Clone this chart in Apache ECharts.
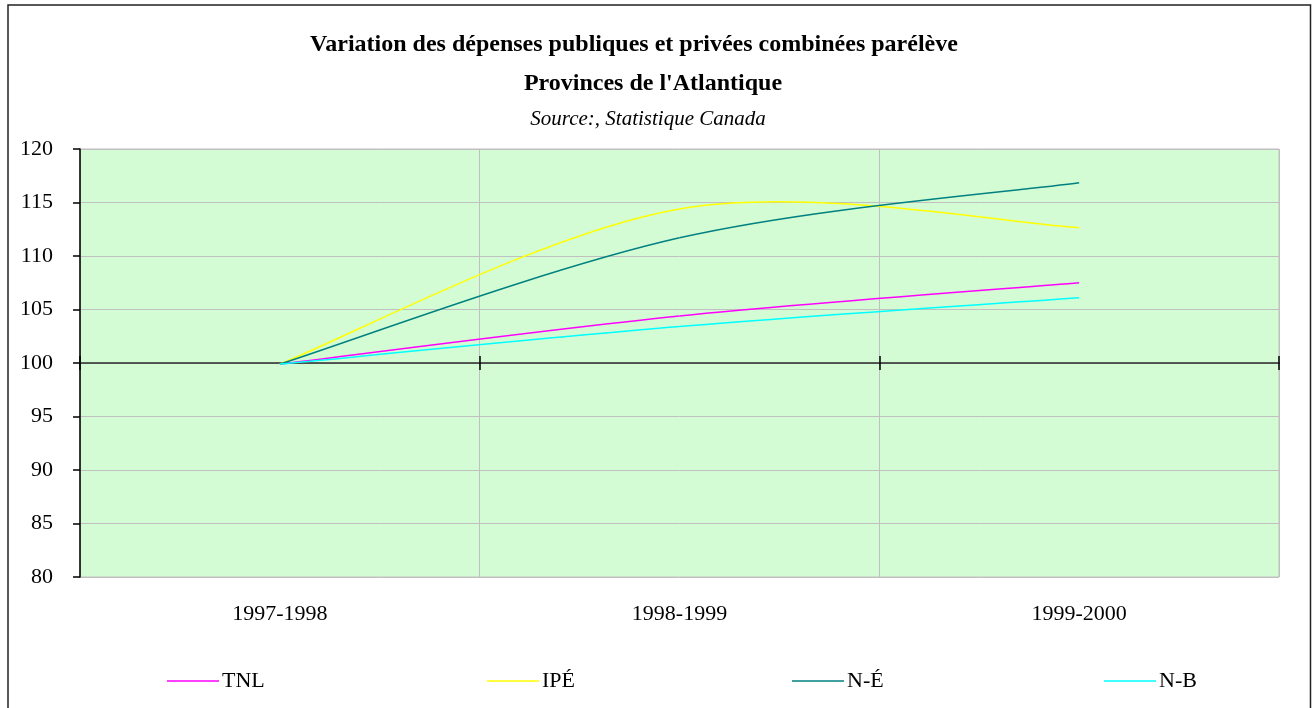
<!DOCTYPE html>
<html>
<head>
<meta charset="utf-8">
<script src="https://cdn.jsdelivr.net/npm/echarts@6/dist/echarts.min.js"></script>
<style>
html,body{margin:0;padding:0;background:#fff;}
#c{width:1313px;height:708px;}
</style>
</head>
<body>
<div id="c"></div>
<script>
var categories = ['1997-1998', '1998-1999', '1999-2000'];
var seriesNames = ['TNL', 'IPÉ', 'N-É', 'N-B'];
var tnl = [99.9, 104.4, 107.5];
var ipe = [99.9, 114.4, 112.65];
var ne = [99.9, 111.7, 116.85];
var nb = [99.9, 103.4, 106.1];
var yTicks = {min: 80, max: 120, interval: 5};
var titleLines = [
  'Variation des dépenses publiques et privées combinées parélève',
  'Provinces de l\'Atlantique',
  'Source:, Statistique Canada'
];

var colors = ['#ff00ff', '#ffff00', '#008080', '#00ffff'];
var values = [tnl, ipe, ne, nb];
var FONT = '"Liberation Serif", "Times New Roman", serif';

var chart = echarts.init(document.getElementById('c'), null, {renderer: 'canvas'});

var gridTop = 149, gridBottomY = 577;
var gridH = gridBottomY - gridTop;
var offset100 = -gridH * (100 - yTicks.min) / (yTicks.max - yTicks.min);

var legendLefts = [167, 487, 792, 1104];
var legends = seriesNames.map(function (n, i) {
  return {
    data: [n],
    left: legendLefts[i],
    top: 670,
    padding: 0,
    itemWidth: 52,
    itemHeight: 20,
    itemGap: 0,
    icon: 'path://M0,0 L52,0 L52,1.4 L0,1.4 Z',
    textStyle: {fontFamily: FONT, fontSize: 22, color: '#000', padding: [0, 0, 0, -2]},
    selectedMode: false
  };
});

// Excel-style smoothing: Bezier control points from neighbouring points (1/6 tension)
function makeRenderItem(vals, color) {
  return function (params, api) {
    var i = params.dataIndex;
    if (i >= vals.length - 1) return null;
    var pts = vals.map(function (v, k) { return api.coord([k, v]); });
    var p0 = pts[Math.max(i - 1, 0)], p1 = pts[i], p2 = pts[i + 1], p3 = pts[Math.min(i + 2, pts.length - 1)];
    var c1x = p1[0] + (p2[0] - p0[0]) / 6, c1y = p1[1] + (p2[1] - p0[1]) / 6;
    var c2x = p2[0] - (p3[0] - p1[0]) / 6, c2y = p2[1] - (p3[1] - p1[1]) / 6;
    return {
      type: 'bezierCurve',
      shape: {x1: p1[0], y1: p1[1], x2: p2[0], y2: p2[1], cpx1: c1x, cpy1: c1y, cpx2: c2x, cpy2: c2y},
      style: {fill: null, stroke: color, lineWidth: 1.5},
      silent: true
    };
  };
}

var series = seriesNames.map(function (n, i) {
  return {
    name: n,
    type: 'custom',
    coordinateSystem: 'cartesian2d',
    data: values[i].map(function (v, k) { return [k, v]; }),
    encode: {x: 0, y: 1},
    renderItem: makeRenderItem(values[i], colors[i]),
    itemStyle: {color: colors[i]},
    z: 5
  };
});

chart.setOption({
  animation: false,
  backgroundColor: '#fff',
  graphic: [
    {type: 'rect', shape: {x: 8, y: 5, width: 1302.5, height: 720}, style: {fill: 'none', stroke: '#222', lineWidth: 1.5}, z: 100},
    {type: 'text', x: 634, y: 45, style: {text: titleLines[0], font: 'bold 24px ' + FONT, fill: '#000', textAlign: 'center', textVerticalAlign: 'middle'}},
    {type: 'text', x: 653, y: 84, style: {text: titleLines[1], font: 'bold 24px ' + FONT, fill: '#000', textAlign: 'center', textVerticalAlign: 'middle'}},
    {type: 'text', x: 648, y: 119, style: {text: titleLines[2], font: 'italic 21px ' + FONT, fill: '#000', textAlign: 'center', textVerticalAlign: 'middle'}}
  ],
  legend: legends,
  grid: {
    left: 80, right: 34, top: gridTop, height: gridH,
    show: true, backgroundColor: '#d4fcd4', borderColor: '#c0c0c0', borderWidth: 1
  },
  xAxis: [
    {
      type: 'category', data: categories, boundaryGap: true, position: 'bottom',
      axisLine: {show: false}, axisTick: {show: false},
      axisLabel: {fontFamily: FONT, fontSize: 22, color: '#000', margin: 26},
      splitLine: {show: true, lineStyle: {color: '#c0c0c0', width: 1}}
    },
    {
      type: 'category', data: categories, boundaryGap: true, position: 'bottom', offset: offset100,
      axisLine: {show: true, lineStyle: {color: '#2a2a2a', width: 1.5}},
      axisTick: {show: true, length: 7, inside: false, lineStyle: {color: '#000', width: 1.5}},
      axisLabel: {show: false}, splitLine: {show: false}
    },
    {
      type: 'category', data: categories, boundaryGap: true, position: 'bottom', offset: offset100,
      axisLine: {show: false},
      axisTick: {show: true, length: 7, inside: true, lineStyle: {color: '#000', width: 1.5}},
      axisLabel: {show: false}, splitLine: {show: false}
    }
  ],
  yAxis: {
    type: 'value', min: yTicks.min, max: yTicks.max, interval: yTicks.interval,
    axisLine: {show: true, lineStyle: {color: '#000', width: 1.5}},
    axisTick: {show: true, length: 7, lineStyle: {color: '#000', width: 1.5}},
    axisLabel: {fontFamily: FONT, fontSize: 22, color: '#000', margin: 27},
    splitLine: {show: true, lineStyle: {color: '#c0c0c0', width: 1}}
  },
  series: series
});
</script>
</body>
</html>
